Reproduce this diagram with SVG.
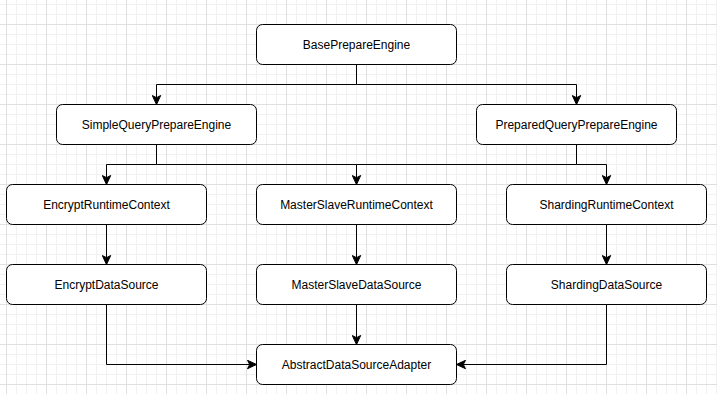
<svg xmlns="http://www.w3.org/2000/svg" width="717" height="394" viewBox="0 0 717 394">
<defs>
<pattern id="minor" x="6" y="4" width="10" height="10" patternUnits="userSpaceOnUse">
<path d="M0.5,0 V10 M0,0.5 H10" fill="none" stroke="#f1f1f1" stroke-width="1"/>
</pattern>
<pattern id="major" x="6" y="24" width="40" height="40" patternUnits="userSpaceOnUse">
<path d="M0.5,0 V40 M0,0.5 H40" fill="none" stroke="#e0e0e0" stroke-width="1"/>
</pattern>
<marker id="arrow" viewBox="0 0 10 10" refX="10" refY="5" markerWidth="10" markerHeight="10" markerUnits="userSpaceOnUse" orient="auto">
<path d="M10,5 L1,0.8 L3.2,5 L1,9.2 Z" fill="#000" stroke="#000" stroke-width="1"/>
</marker>
<style>
.node rect { fill: #fff; stroke: #000; stroke-width: 1; }
.node text { font-family: "Liberation Sans", Arial, Helvetica, sans-serif; font-size: 12px; fill: #000; text-anchor: middle; dominant-baseline: central; }
.edges path { fill: none; stroke: #000; stroke-width: 1; }
.edges path.arr { marker-end: url(#arrow); }
</style>
</defs>
<rect width="717" height="394" fill="#fff"/>
<rect width="717" height="394" fill="url(#minor)"/>
<rect width="717" height="394" fill="url(#major)"/>
<g class="edges" id="connectors">
<path class="arr" d="M356.5,64.5 V84.5 H156.5 V104.5"/>
<path class="arr" d="M356.5,84.5 H576.5 V104.5"/>
<path class="arr" d="M156.5,144.5 V164.5 H106.5 V184.5"/>
<path class="arr" d="M156.5,164.5 H356.5 V184.5"/>
<path d="M576.5,144.5 V164.5 H356.5"/>
<path class="arr" d="M576.5,164.5 H606.5 V184.5"/>
<path class="arr" d="M106.5,224.5 V264.5"/>
<path class="arr" d="M356.5,224.5 V264.5"/>
<path class="arr" d="M606.5,224.5 V264.5"/>
<path class="arr" d="M106.5,304.5 V364.5 H256.5"/>
<path class="arr" d="M356.5,304.5 V344.5"/>
<path class="arr" d="M606.5,304.5 V364.5 H456.5"/>
</g>
<g class="node" id="BasePrepareEngine"><rect x="256.5" y="24.5" width="200" height="40" rx="6"/><text x="356.5" y="44.5">BasePrepareEngine</text></g>
<g class="node" id="SimpleQueryPrepareEngine"><rect x="56.5" y="104.5" width="200" height="40" rx="6"/><text x="156.5" y="124.5">SimpleQueryPrepareEngine</text></g>
<g class="node" id="PreparedQueryPrepareEngine"><rect x="476.5" y="104.5" width="200" height="40" rx="6"/><text x="576.5" y="124.5">PreparedQueryPrepareEngine</text></g>
<g class="node" id="EncryptRuntimeContext"><rect x="6.5" y="184.5" width="200" height="40" rx="6"/><text x="106.5" y="204.5">EncryptRuntimeContext</text></g>
<g class="node" id="MasterSlaveRuntimeContext"><rect x="256.5" y="184.5" width="200" height="40" rx="6"/><text x="356.5" y="204.5">MasterSlaveRuntimeContext</text></g>
<g class="node" id="ShardingRuntimeContext"><rect x="506.5" y="184.5" width="200" height="40" rx="6"/><text x="606.5" y="204.5">ShardingRuntimeContext</text></g>
<g class="node" id="EncryptDataSource"><rect x="6.5" y="264.5" width="200" height="40" rx="6"/><text x="106.5" y="284.5">EncryptDataSource</text></g>
<g class="node" id="MasterSlaveDataSource"><rect x="256.5" y="264.5" width="200" height="40" rx="6"/><text x="356.5" y="284.5">MasterSlaveDataSource</text></g>
<g class="node" id="ShardingDataSource"><rect x="506.5" y="264.5" width="200" height="40" rx="6"/><text x="606.5" y="284.5">ShardingDataSource</text></g>
<g class="node" id="AbstractDataSourceAdapter"><rect x="256.5" y="344.5" width="200" height="40" rx="6"/><text x="356.5" y="364.5">AbstractDataSourceAdapter</text></g>
</svg>
